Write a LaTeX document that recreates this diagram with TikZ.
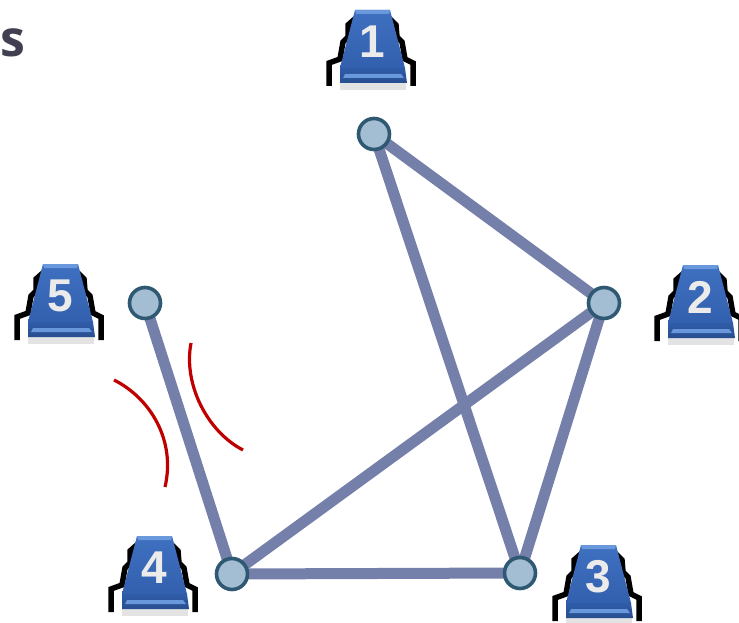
\documentclass[tikz,border=0pt]{standalone}
\usepackage{fontspec}
\setmainfont{Open Sans}
\newfontfamily\digitfont{Liberation Sans}
\usetikzlibrary{shadows.blur}
\definecolor{edgecol}{HTML}{7480A9}
\definecolor{nodefill}{HTML}{A3BDD3}
\definecolor{nodeline}{HTML}{2F5872}
\definecolor{arcred}{HTML}{C00000}
\definecolor{blueA}{HTML}{3F70C0}
\definecolor{blueB}{HTML}{3260AE}
\definecolor{blueC}{HTML}{6A98DC}
\definecolor{blueD}{HTML}{2F5CA8}
\tikzset{
  x=1pt,y=-1pt,
  link/.style={draw=edgecol,line width=11pt},
  station/.style={circle,draw=nodeline,fill=nodefill,line width=3.6pt,minimum size=31pt,inner sep=0pt},
  arcline/.style={draw=arcred,line width=3.2pt},
  stepline/.style={draw=black,line width=5.5pt,line join=miter},
  numlabel/.style={text=white!92!black,font=\digitfont\bfseries\fontsize{46}{46}\selectfont,inner sep=0pt},
  pics/phone/.style={code={
    \fill[black!18,opacity=.6] (-31,38) rectangle (35,45);
    \draw[stepline] (-42,41) -- (-42,18) -- (-31,14) -- (-28,-3) -- (-23,-8) -- (-23,-20) -- (-14,-28);
    \draw[stepline] (42,41) -- (42,18) -- (34,14) -- (31,-3) -- (26,-8) -- (25,-20) -- (17,-28);
    \shade[top color=blueA,bottom color=blueB,draw=none]
      (-16,-35) -- (19,-35) -- (34,23) -- (-31,23) -- cycle;
    \fill[blueC] (-16,-35) -- (19,-35) -- (18,-31) -- (-15,-31) -- cycle;
    \shade[top color=blueD,bottom color=blueD!85!black] (-31,23) -- (34,23) -- (36,38) -- (-31,38) -- cycle;
    \fill[blueC] (-26,29) -- (30,29) -- (33,33) -- (-28,33) -- cycle;
    \node[numlabel] (#1) at (1,-3) {#1};
  }}
}
\begin{document}
\begin{tikzpicture}
\useasboundingbox (0,0) rectangle (739,623);
\fill[white] (0,0) rectangle (739,623);
\node[text={rgb,255:red,64;green,64;blue,82},font=\bfseries\fontsize{50}{50}\selectfont,inner sep=0pt] (title) at (13,43) {s};

\pic at (371,45) {phone=1};
\pic at (699,300) {phone=2};
\pic at (597,580) {phone=3};
\pic at (153,571) {phone=4};
\pic at (59,299) {phone=5};

\coordinate (s1) at (374,134);
\coordinate (s2) at (604,303);
\coordinate (s3) at (520,573);
\coordinate (s4) at (232,574);
\coordinate (s5) at (145,303);
\draw[link] (s1) -- (s2);
\draw[link] (s1) -- (s3);
\draw[link] (s2) -- (s3);
\draw[link] (s2) -- (s4);
\draw[link] (s3) -- (s4);
\draw[link] (s4) -- (s5);
\node[station] (n1) at (s1) {};
\node[station] (n2) at (s2) {};
\node[station] (n3) at (s3) {};
\node[station] (n4) at (s4) {};
\node[station] (n5) at (s5) {};

\coordinate (a1) at (114,380);
\coordinate (a2) at (165,487);
\coordinate (b1) at (191,343);
\coordinate (b2) at (243,450);
\draw[arcline] (a1) .. controls (150,398) and (176,440) .. (a2);
\draw[arcline] (b1) .. controls (183,385) and (208,432) .. (b2);
\end{tikzpicture}
\end{document}
